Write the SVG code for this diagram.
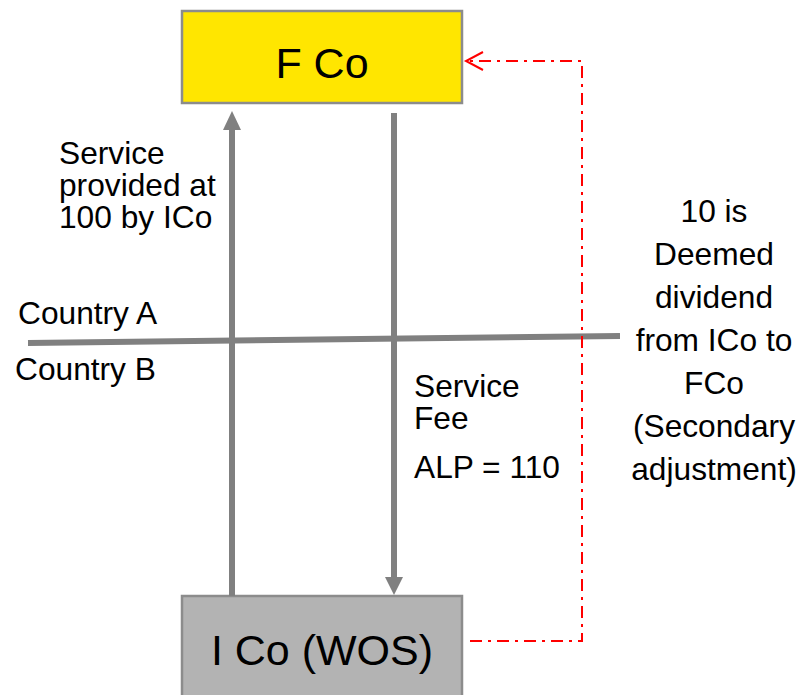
<svg xmlns="http://www.w3.org/2000/svg" width="802" height="695" viewBox="0 0 802 695">
<style>
text{font-family:"Liberation Sans",Arial,sans-serif;fill:#000}
.lbl{font-size:31.7px}
.big{font-size:43px}
.box{stroke:#8c8c8c;stroke-width:2.5}
.flow{stroke:#808080;stroke-width:6;fill:none}
.red{stroke:#ff0000;stroke-width:2;fill:none;stroke-dasharray:12,6,3,6}
</style>
<rect width="802" height="695" fill="#fff"/>
<g id="fco">
<rect class="box" x="182" y="11" width="280" height="92" fill="#ffe600"/>
<text class="big" x="322" y="78" text-anchor="middle">F Co</text>
</g>
<g id="ico">
<rect class="box" x="182" y="596" width="280" height="110" fill="#b3b3b3"/>
<text class="big" x="322" y="665" text-anchor="middle">I Co (WOS)</text>
</g>
<g id="connectors">
<line class="flow" x1="28" y1="343" x2="620" y2="336"/>
<line class="flow" x1="232" y1="596" x2="232" y2="128"/>
<polygon points="232,111 223,130 241,130" fill="#808080"/>
<line class="flow" x1="394" y1="113" x2="394" y2="578"/>
<polygon points="394,595 385,577 403,577" fill="#808080"/>
<polyline class="red" points="470,641 582,641 582,61 468,61"/>
<polyline points="483,52 466,61 483,70" fill="none" stroke="#ff0000" stroke-width="2"/>
</g>
<g id="labels">
<text class="lbl" x="59" y="164">Service</text>
<text class="lbl" x="59" y="196">provided at</text>
<text class="lbl" x="59" y="228">100 by ICo</text>
<text class="lbl" x="18" y="324">Country A</text>
<text class="lbl" x="15" y="380">Country B</text>
<text class="lbl" x="414" y="397">Service</text>
<text class="lbl" x="414" y="429">Fee</text>
<text class="lbl" x="414" y="478">ALP = 110</text>
<g text-anchor="middle">
<text class="lbl" x="714" y="222">10 is</text>
<text class="lbl" x="714" y="265">Deemed</text>
<text class="lbl" x="714" y="308">dividend</text>
<text class="lbl" x="714" y="351">from ICo to</text>
<text class="lbl" x="714" y="394">FCo</text>
<text class="lbl" x="714" y="437">(Secondary</text>
<text class="lbl" x="714" y="480">adjustment)</text>
</g>
</g>
</svg>
